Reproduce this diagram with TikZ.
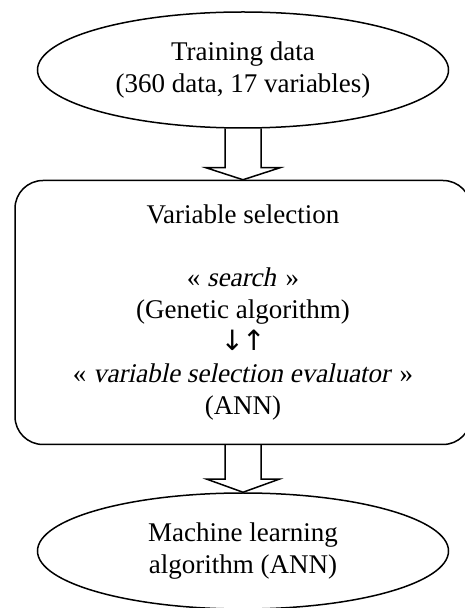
\documentclass[tikz,border=0pt]{standalone}
\usepackage{fontspec}
\setmainfont{Liberation Serif}[ItalicFont={Liberation Serif}, ItalicFeatures={FakeSlant=0.21}]
\newfontfamily\arrowfont{DejaVu Sans}
\usetikzlibrary{shapes.geometric,positioning,calc}

\tikzset{
  every node/.style={font=\fontsize{27}{32}\selectfont, align=center},
  oval/.style={draw, ellipse, line width=1.5pt, minimum width=411pt, minimum height=116pt, inner sep=0pt},
  roundbox/.style={draw, rectangle, rounded corners=28pt, line width=1.5pt, minimum width=456pt, minimum height=264pt, inner sep=0pt},
  bigarrow/.style={draw, line width=1.5pt, line join=miter}
}

\begin{document}
\begin{tikzpicture}[x=1pt,y=1pt]
        \useasboundingbox (0,0) rectangle (465,608);
        \node[oval] (train) at (243,538) {Training data\\(360 data, 17 variables)};
        \node[roundbox, below=51pt of train] (select) {Variable selection\\[31pt]
            « \textit{search}\kern3pt\ »\\(Genetic algorithm)\\{\arrowfont\fontsize{28}{32}\selectfont ↓\kern-2pt↑}\\« \textit{variable selection evaluator}\kern3pt\ »\\(ANN)};
        \node[oval, below=47pt of select] (learn) {Machine learning\\algorithm (ANN)};
        % block arrows
        \draw[bigarrow] ($(train.south)+(-18,0)$) -- ($(select.north)+(-18,12)$) -- ($(select.north)+(-37,12)$)
            -- (select.north) -- ($(select.north)+(37,12)$) -- ($(select.north)+(18,12)$) -- ($(train.south)+(18,0)$);
        \draw[bigarrow] ($(select.south)+(-18,0)$) -- ($(learn.north)+(-18,13)$) -- ($(learn.north)+(-36,13)$)
            -- (learn.north) -- ($(learn.north)+(36,13)$) -- ($(learn.north)+(18,13)$) -- ($(select.south)+(18,0)$);
    \end{tikzpicture}
\end{document}
